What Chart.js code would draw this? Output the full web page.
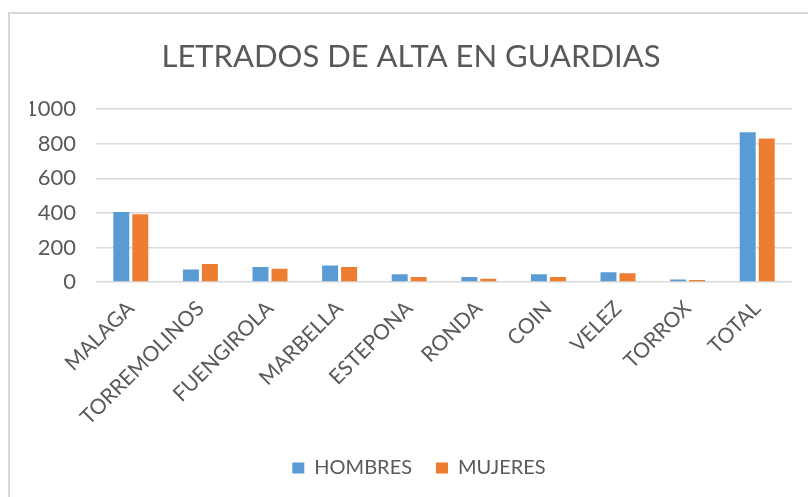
<!DOCTYPE html>
<html>
<head>
<meta charset="utf-8">
<script src="https://cdn.jsdelivr.net/npm/chart.js@4.4.1/dist/chart.umd.min.js"></script>
<style>
  html, body { margin: 0; padding: 0; background: #ffffff; overflow: hidden; }
  #wrap { position: relative; width: 808px; height: 497px; }
  #frame { position: absolute; left: 8px; top: 12px; width: 900px; height: 600px;
           border: 2px solid #d9d9d9; box-sizing: border-box; pointer-events: none; }
  canvas { position: absolute; left: 0; top: 0; }
</style>
</head>
<body>
<div id="wrap">
  <canvas id="c" width="808" height="497"></canvas>
  <div id="frame"></div>
</div>
<script>
const categories = ["MALAGA", "TORREMOLINOS", "FUENGIROLA", "MARBELLA", "ESTEPONA", "RONDA", "COIN", "VELEZ", "TORROX", "TOTAL"];
const hombres = [405, 72, 87, 95, 45, 29, 45, 56, 14, 867];
const mujeres = [392, 104, 77, 87, 29, 19, 29, 50, 12, 830];
const seriesNames = ["HOMBRES", "MUJERES"];
const titleText = "LETRADOS DE ALTA EN GUARDIAS";

const textColor = "#595959";
const fontFamily = "Lato, 'Liberation Sans', sans-serif";

const legendShift = {
  id: "legendShift",
  afterLayout(chart) {
    if (chart.legend) { chart.legend.left += 8; chart.legend.right += 8; }
  }
};

new Chart(document.getElementById("c"), {
  type: "bar",
  data: {
    labels: categories,
    datasets: [
      { label: seriesNames[0], data: hombres, backgroundColor: "#5B9BD5",
        categoryPercentage: 0.546, barPercentage: 0.84 },
      { label: seriesNames[1], data: mujeres, backgroundColor: "#ED7D31",
        categoryPercentage: 0.546, barPercentage: 0.84 }
    ]
  },
  plugins: [legendShift],
  options: {
    responsive: false,
    animation: false,
    devicePixelRatio: 1,
    layout: { padding: { left: 30, right: 16, top: 0, bottom: 9 } },
    plugins: {
      title: {
        display: true, text: titleText, color: textColor,
        font: { family: fontFamily, size: 31, weight: "normal" },
        padding: { top: 38, bottom: 34 }
      },
      legend: {
        display: true, position: "bottom",
        labels: {
          color: textColor, boxWidth: 12, boxHeight: 11, padding: 24,
          font: { family: fontFamily, size: 20 }
        }
      },
      tooltip: { enabled: false }
    },
    scales: {
      x: {
        grid: { display: false, drawTicks: false },
        border: { display: false },
        ticks: { color: textColor, font: { family: fontFamily, size: 21 },
                 maxRotation: 45, minRotation: 45, padding: 14, autoSkip: false },
        afterFit: (s) => { s.height = 152; }
      },
      y: {
        min: 0, max: 1000,
        ticks: { stepSize: 200, color: textColor, padding: 20,
                 font: { family: fontFamily, size: 22 },
                 callback: (v) => String(v) },
        grid: { color: "#d9d9d9", lineWidth: 1.5, drawTicks: false },
        border: { display: false },
        afterFit: (s) => { s.width = 66; }
      }
    }
  }
});
</script>
</body>
</html>
